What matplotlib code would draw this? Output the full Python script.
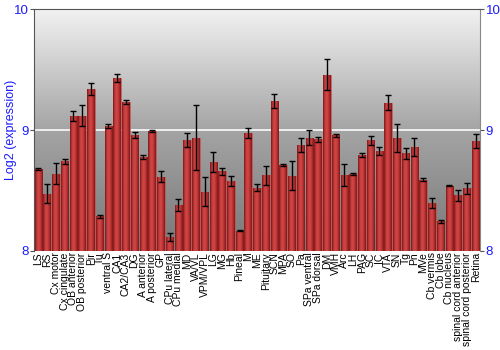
import matplotlib.pyplot as plt
import numpy as np
from matplotlib.colors import LinearSegmentedColormap

regions = ["LS", "RS", "Cx motor", "Cx cingulate", "OB anterior", "OB posterior", "Pir", "Tu",
           "ventral S", "CA1", "CA2/CA3", "DG", "A anterior", "A posterior", "GP", "CPu lateral",
           "CPu medial", "MD", "VA/VL", "VPM/VPL", "LG", "MG", "Hb", "Pineal", "M", "ME",
           "Pituitary", "SCN", "MPA", "SO", "Pa", "SPa ventral", "SPa dorsal", "DM", "VMH", "Arc",
           "LH", "PAG", "SC", "IC", "VTA", "SN", "Tg", "Pn", "MVe", "Cb vermis", "Cb lobe",
           "Cb nucleus", "spinal cord anterior", "spinal cord posterior", "Retina"]
expression = [8.68, 8.475, 8.64, 8.74, 9.116, 9.12, 9.34, 8.287,
              9.033, 9.43, 9.232, 8.96, 8.776, 8.99, 8.613, 8.116,
              8.38, 8.917, 8.936, 8.49, 8.735, 8.66, 8.577, 8.168, 8.978, 8.522,
              8.624, 9.24, 8.713, 8.62, 8.876, 8.936, 8.923, 9.459, 8.956, 8.627,
              8.635, 8.793, 8.917, 8.83, 9.224, 8.934, 8.807, 8.86, 8.59, 8.398, 8.246,
              8.541, 8.459, 8.517, 8.906]
errors = [0.01, 0.075, 0.085, 0.02, 0.04, 0.09, 0.047, 0.014,
          0.015, 0.036, 0.02, 0.025, 0.014, 0.007, 0.045, 0.03,
          0.048, 0.057, 0.27, 0.12, 0.085, 0.028, 0.04, 0.006, 0.04, 0.028,
          0.075, 0.06, 0.01, 0.12, 0.057, 0.062, 0.023, 0.13, 0.015, 0.092,
          0.008, 0.02, 0.037, 0.033, 0.062, 0.116, 0.048, 0.073, 0.012, 0.044, 0.014,
          0.003, 0.047, 0.048, 0.057]
yticks = [8, 9, 10]

plt.rcParams["font.family"] = ["Liberation Sans", "DejaVu Sans"]
blue = "#1a1aff"
fig = plt.figure(figsize=(5, 3.5), dpi=100)
ax = fig.add_axes([0.068, 0.283, 0.892, 0.691])

x = np.arange(len(regions))
xlim = (-0.5, len(regions) - 0.5)
ax.set_xlim(*xlim)
ax.set_ylim(8, 10)

# background gradient
bg = LinearSegmentedColormap.from_list("bg", ["#787878", "#a4a4a4", "#f2f2f2"])
grad = np.linspace(0, 1, 256).reshape(-1, 1)
ax.imshow(grad, cmap=bg, origin="lower", aspect="auto",
          extent=[xlim[0], xlim[1], 8, 10], zorder=0)
ax.axhline(9, color="#f4f4f4", lw=1.3, zorder=1)

# bars with a cylinder-like horizontal gradient
barcm = LinearSegmentedColormap.from_list("bar", ["#7a1616", "#c43c3c", "#d04848", "#b83030", "#7e1818"])
hgrad = np.linspace(0, 1, 64).reshape(1, -1)
bars = ax.bar(x, np.array(expression) - 8, bottom=8, width=0.86,
              color="#b33030", edgecolor="#c86060", linewidth=0.4, zorder=2)
for b in bars:
    im = ax.imshow(hgrad, cmap=barcm, aspect="auto", zorder=2.5,
                   extent=[b.get_x(), b.get_x() + b.get_width(), 8, 8 + b.get_height()])
    im.set_clip_path(b)
ax.errorbar(x, expression, yerr=errors, fmt="none", ecolor="black", elinewidth=1,
            capsize=2, capthick=1, zorder=3)

ax.set_xticks(x)
ax.set_xticklabels(regions, rotation=90, fontsize=7.5)
ax.tick_params(axis="x", length=0, pad=1)
ax.set_yticks(yticks)
ax.set_yticklabels([str(t) for t in yticks], color=blue, fontsize=9.5)
ax.tick_params(axis="y", length=3, color="#555555", labelright=True, right=True, pad=1)
ax.set_ylabel("Log2 (expression)", color=blue, fontsize=9)
ax.yaxis.set_label_coords(-0.038, 0.5)

for side in ["top", "left"]:
    ax.spines[side].set_color("#555555")
ax.spines["right"].set_color("#888888")
ax.spines["bottom"].set_visible(False)

plt.savefig("out.png", dpi=100)
